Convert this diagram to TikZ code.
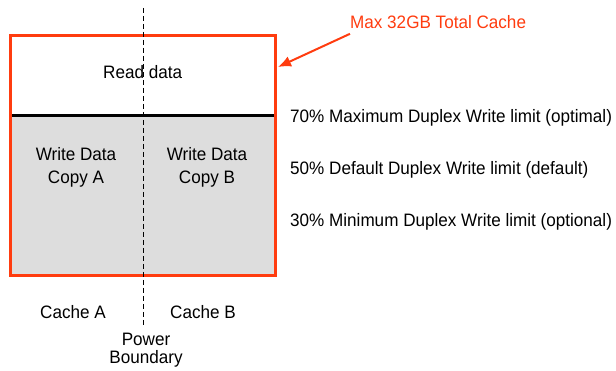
\documentclass[tikz,border=0pt]{standalone}
\usepackage{fontspec}
\setmainfont{Liberation Sans}[FakeStretch=0.95]
\usepackage{tikz}
\usetikzlibrary{arrows.meta,calc}
\definecolor{cachered}{RGB}{255,60,15}
\definecolor{writegray}{RGB}{221,221,221}
\tikzset{
  txt/.style={inner sep=0pt, align=center},
  limittxt/.style={inner sep=0pt, anchor=west},
}

\begin{document}
\begin{tikzpicture}[x=1pt,y=-1pt,font=\fontsize{18}{20}\selectfont]
  \useasboundingbox (0,0) rectangle (616,371);

  %% Cache areas
  \coordinate (nw) at (10,35.5);
  \coordinate (se) at (275.5,275.5);
  \coordinate (wl) at (10,115.5);
  \coordinate (wr) at (275.5,115.5);
  \fill[writegray] (wl) rectangle (se);
  \draw[line width=2.5pt] (wl) -- (wr);
  \draw[cachered, line width=3pt] (nw) rectangle (se);

  %% Power boundary
  \coordinate (pt) at (142.7,8);
  \coordinate (pb) at (142.7,326);
  \draw[dashed, dash pattern=on 5pt off 3pt] (pt) -- (pb);

  \node[txt] (read) at (142.7,72) {Read data};
  \node[txt, font=\fontsize{18}{23}\selectfont] (copya) at (76,167) {Write Data\\Copy A};
  \node[txt, font=\fontsize{18}{23}\selectfont] (copyb) at (207,167) {Write Data\\Copy B};

  \node[txt] (cachea) at (73,312) {Cache A};
  \node[txt] (cacheb) at (203,312) {Cache B};
  \node[txt, font=\fontsize{18}{18}\selectfont] (power) at (146,350) {Power\\Boundary};

  %% Limits
  \node[limittxt] (max) at (290,118) {70\% Maximum Duplex Write limit (optimal)};
  \node[limittxt] (def) at (290,170) {50\% Default Duplex Write limit (default)};
  \node[limittxt] (min) at (290,222) {30\% Minimum Duplex Write limit (optional)};

  %% Total
  \node[limittxt, text=cachered] (total) at (350,22) {Max 32GB Total Cache};
  \coordinate (edge) at (278,67);
  \draw[cachered, line width=2pt, -{Latex[length=13pt,width=11pt]}]
    ($(total.south west)+(0,5)$) -- (edge);
\end{tikzpicture}
\end{document}
